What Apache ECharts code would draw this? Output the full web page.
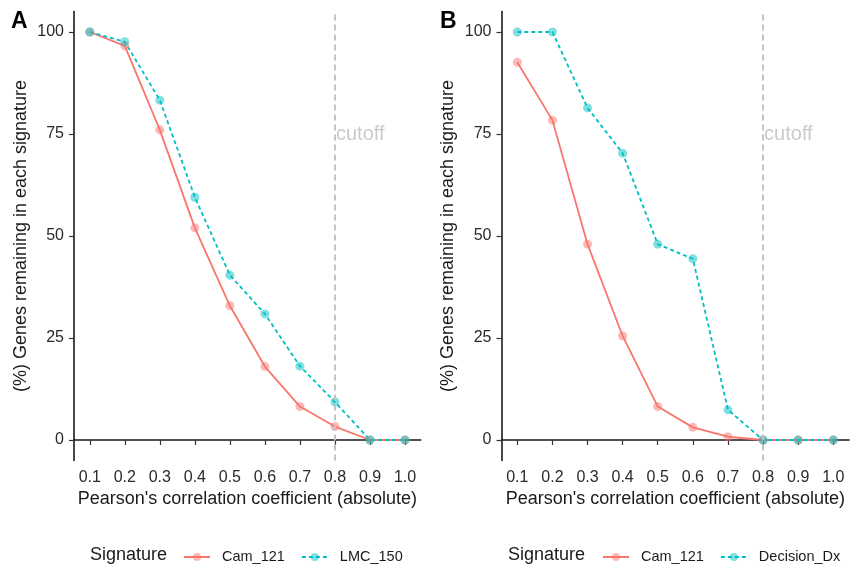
<!DOCTYPE html>
<html>
<head>
<meta charset="utf-8">
<script src="https://cdn.jsdelivr.net/npm/echarts@6/dist/echarts.min.js"></script>
<style>html,body{margin:0;padding:0;background:#fff}#c{width:854px;height:567px}</style>
</head>
<body>
<div id="c"></div>
<script>
// ---- data ----
const xValues = [0.1, 0.2, 0.3, 0.4, 0.5, 0.6, 0.7, 0.8, 0.9, 1.0];
const camA = [100, 96.6, 76.0, 52.0, 32.9, 18.0, 8.2, 3.3, 0, 0];
const lmcA = [100, 97.6, 83.3, 59.5, 40.4, 30.9, 18.1, 9.3, 0, 0];
const camB = [92.6, 78.4, 48.0, 25.5, 8.2, 3.1, 0.8, 0, 0, 0];
const dxB = [100, 100, 81.4, 70.3, 48.0, 44.4, 7.4, 0, 0, 0];
const yTicks = [0, 25, 50, 75, 100];
const cutoffX = 0.8;
const cutoffLabelY = 75;
const panelLabels = ['A', 'B'];
const legendTitle = 'Signature';
const xTitle = "Pearson's correlation coefficient (absolute)";
const yTitle = '(%) Genes remaining in each signature';

const RED = '#F8766D', TEAL = '#00BFC4';
const FONT = 'Liberation Sans, Arial, Helvetica, sans-serif';
const pair = (ys) => xValues.map((x, i) => [x, ys[i]]);

const chart = echarts.init(document.getElementById('c'), null, {renderer: 'canvas'});

const grids = [
  {left: 74, top: 11.6, width: 346.8, height: 448.8},
  {left: 501.5, top: 11.6, width: 347.6, height: 448.8}
];

function xAxis(gi) {
  return {
    type: 'value', gridIndex: gi, min: 0.055, max: 1.045,
    name: xTitle, nameLocation: 'middle', nameGap: 29,
    nameTextStyle: {fontFamily: FONT, fontSize: 18, color: '#1a1a1a'},
    axisLine: {show: true, lineStyle: {color: '#1a1a1a', width: 1.6}},
    axisTick: {show: true, length: 5, lineStyle: {color: '#333', width: 1.2}, customValues: xValues},
    axisLabel: {show: true, margin: 9, fontFamily: FONT, fontSize: 16, color: '#2a2a2a',
      customValues: xValues, formatter: v => v.toFixed(1)},
    splitLine: {show: false}
  };
}
function yAxis(gi) {
  return {
    type: 'value', gridIndex: gi, min: -5, max: 105,
    name: yTitle, nameLocation: 'middle', nameGap: 44,
    nameTextStyle: {fontFamily: FONT, fontSize: 18, color: '#1a1a1a'},
    axisLine: {show: true, lineStyle: {color: '#1a1a1a', width: 1.6}},
    axisTick: {show: true, length: 5, lineStyle: {color: '#333', width: 1.2}, customValues: yTicks},
    axisLabel: {show: true, margin: 10, fontFamily: FONT, fontSize: 16, color: '#2a2a2a',
      customValues: yTicks},
    splitLine: {show: false}
  };
}

function cutoffSeries(gi) {
  return {
    type: 'scatter', xAxisIndex: gi, yAxisIndex: gi, z: 1,
    data: [[cutoffX, cutoffLabelY]], symbolSize: 0, silent: true,
    label: {show: true, position: 'right', distance: 1, formatter: 'cutoff',
      fontFamily: FONT, fontSize: 20, color: '#BDBDBD'},
    markLine: {silent: true, symbol: 'none', label: {show: false},
      lineStyle: {color: '#C4C4C4', width: 2, type: [6, 4]},
      data: [{xAxis: cutoffX}]}
  };
}
function lineSeries(name, gi, ys, color, dashed) {
  return {
    name, type: 'line', xAxisIndex: gi, yAxisIndex: gi, z: 3,
    data: pair(ys), symbol: 'circle', symbolSize: 9, showSymbol: true,
    lineStyle: {color, width: 1.8, type: dashed ? [4, 3] : 'solid'},
    itemStyle: {color, opacity: 0.5, borderWidth: 0},
    emphasis: {disabled: true}, animation: false
  };
}

function legend(left, names) {
  return {
    left, top: 547, orient: 'horizontal', data: names, padding: 0,
    itemWidth: 26, itemHeight: 10, itemGap: 16, selectedMode: false,
    textStyle: {fontFamily: FONT, fontSize: 14.5, color: '#1a1a1a', lineHeight: 20, padding: [0, 0, 0, 7]}
  };
}

const option = {
  animation: false,
  backgroundColor: '#fff',
  grid: grids,
  xAxis: [xAxis(0), xAxis(1)],
  yAxis: [yAxis(0), yAxis(1)],
  legend: [legend(183, ['Cam_121', 'LMC_150']), legend(602, ['Cam_121', 'Decision_Dx'])],
  graphic: [
    {type: 'text', left: 11, top: 10, style: {text: panelLabels[0], font: 'bold 23px ' + FONT, fill: '#000'}},
    {type: 'text', left: 440, top: 10, style: {text: panelLabels[1], font: 'bold 23px ' + FONT, fill: '#000'}},
    {type: 'text', left: 90, top: 546, style: {text: legendTitle, font: '18px ' + FONT, fill: '#1a1a1a'}},
    {type: 'text', left: 508, top: 546, style: {text: legendTitle, font: '18px ' + FONT, fill: '#1a1a1a'}}
  ],
  series: [
    cutoffSeries(0),
    lineSeries('Cam_121', 0, camA, RED, false),
    lineSeries('LMC_150', 0, lmcA, TEAL, true),
    cutoffSeries(1),
    lineSeries('Cam_121', 1, camB, RED, false),
    lineSeries('Decision_Dx', 1, dxB, TEAL, true)
  ]
};
chart.setOption(option);
</script>
</body>
</html>
